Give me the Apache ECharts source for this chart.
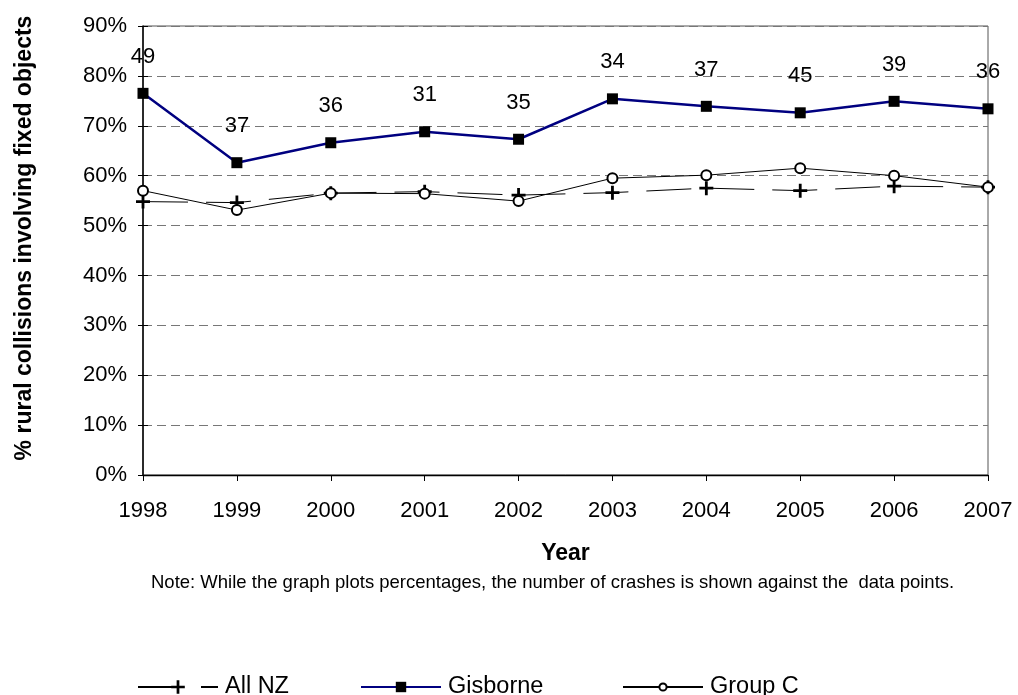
<!DOCTYPE html>
<html>
<head>
<meta charset="utf-8">
<style>
  html, body { margin: 0; padding: 0; background: #fff; }
  #chart { width: 1018px; height: 695px; }
</style>
<script src="https://cdn.jsdelivr.net/npm/echarts@6/dist/echarts.min.js"></script>
</head>
<body>
<div id="chart"></div>
<script>
// Years on the horizontal axis
const years = ['1998', '1999', '2000', '2001', '2002', '2003', '2004', '2005', '2006', '2007'];

// Share of rural collisions involving fixed objects (%)
const allNZ    = [54.8, 54.6, 56.5, 56.8, 56.1, 56.6, 57.5, 57.0, 57.9, 57.7];
const gisborne = [76.5, 62.6, 66.6, 68.8, 67.3, 75.4, 73.9, 72.6, 74.9, 73.4];
const groupC   = [57.0, 53.1, 56.5, 56.4, 54.9, 59.5, 60.1, 61.5, 60.0, 57.7];

// Number of Gisborne crashes, printed beside each point
const gisborneCrashes = [49, 37, 36, 31, 35, 34, 37, 45, 39, 36];

// Percentage axis
const yMin = 0, yMax = 90, yStep = 10;

const FONT = '"Liberation Sans", Arial, Helvetica, sans-serif';
const plus = 'path://M4,0h2v4h4v2h-4v4h-2v-4h-4v-2h4z';

// one legend block per series so each entry sits at its own spot
function legendAt(name, left, iconH) {
  return {
    data: [name], left: left, top: 675, padding: 0,
    itemWidth: 80, itemHeight: iconH,
    textStyle: { fontFamily: FONT, fontSize: 23.5, color: '#000', padding: [0, 0, 0, 2] }
  };
}

const chart = echarts.init(document.getElementById('chart'), null, { renderer: 'canvas' });

chart.setOption({
  backgroundColor: '#fff',
  animation: false,
  textStyle: { fontFamily: FONT, color: '#000' },
  grid: {
    left: 143, right: 30, top: 26, bottom: 220,
    show: true, borderColor: '#555', borderWidth: 1, backgroundColor: 'transparent'
  },
  legend: [
    legendAt('All NZ', 137, 17),
    legendAt('Gisborne', 360, 13),
    legendAt('Group C', 622, 9)
  ],
  xAxis: {
    type: 'category',
    data: years,
    boundaryGap: false,
    name: 'Year',
    nameLocation: 'middle',
    nameGap: 67,
    nameTextStyle: { fontFamily: FONT, fontSize: 23, fontWeight: 'bold', color: '#000' },
    axisLine: { lineStyle: { color: '#000', width: 1.3 } },
    axisTick: { show: true, length: 6, lineStyle: { color: '#000' } },
    axisLabel: { fontFamily: FONT, fontSize: 22, color: '#000', margin: 25 },
    splitLine: { show: false }
  },
  yAxis: [
    {
      type: 'value', min: yMin, max: yMax, interval: yStep,
      axisLine: { show: true, lineStyle: { color: '#000', width: 1.5 } },
      axisTick: { show: true, length: 5, lineStyle: { color: '#000' } },
      axisLabel: { fontFamily: FONT, fontSize: 22, color: '#000', margin: 16, formatter: '{value}%' },
      splitLine: { show: true, lineStyle: { color: '#777', width: 1, type: [9, 5] } }
    },
    {
      // inner half of the crossing tick marks
      type: 'value', min: yMin, max: yMax, interval: yStep, position: 'left',
      axisLine: { show: false },
      axisTick: { show: true, inside: true, length: 5, lineStyle: { color: '#000' } },
      axisLabel: { show: false },
      splitLine: { show: false }
    }
  ],
  series: [
    {
      name: 'All NZ',
      type: 'line',
      data: allNZ,
      symbol: plus,
      symbolSize: 14,
      itemStyle: { color: '#000' },
      lineStyle: { color: '#000', width: 1, type: [45, 18] },
      z: 2
    },
    {
      name: 'Gisborne',
      type: 'line',
      data: gisborne,
      symbol: 'rect',
      symbolSize: 11,
      itemStyle: { color: '#000' },
      lineStyle: { color: '#000080', width: 2.5 },
      label: {
        show: true, position: 'top', distance: 20,
        fontFamily: FONT, fontSize: 22, color: '#000',
        formatter: p => String(gisborneCrashes[p.dataIndex])
      },
      z: 4
    },
    {
      name: 'Group C',
      type: 'line',
      data: groupC,
      symbol: 'emptyCircle',
      symbolSize: 10,
      itemStyle: { color: '#000', borderColor: '#000', borderWidth: 1.5 },
      lineStyle: { color: '#000', width: 1 },
      z: 3
    }
  ],
  graphic: [
    {
      type: 'text',
      x: 25, y: 238, rotation: Math.PI / 2,
      style: {
        text: '% rural collisions involving fixed objects',
        fontFamily: FONT, fontSize: 23, fontWeight: 'bold', fill: '#000',
        align: 'center', verticalAlign: 'middle'
      }
    },
    {
      type: 'text',
      left: 151, top: 573,
      style: {
        text: 'Note: While the graph plots percentages, the number of crashes is shown against the  data points.',
        fontFamily: FONT, fontSize: 18.5, fill: '#000'
      }
    }
  ]
});
</script>
</body>
</html>
